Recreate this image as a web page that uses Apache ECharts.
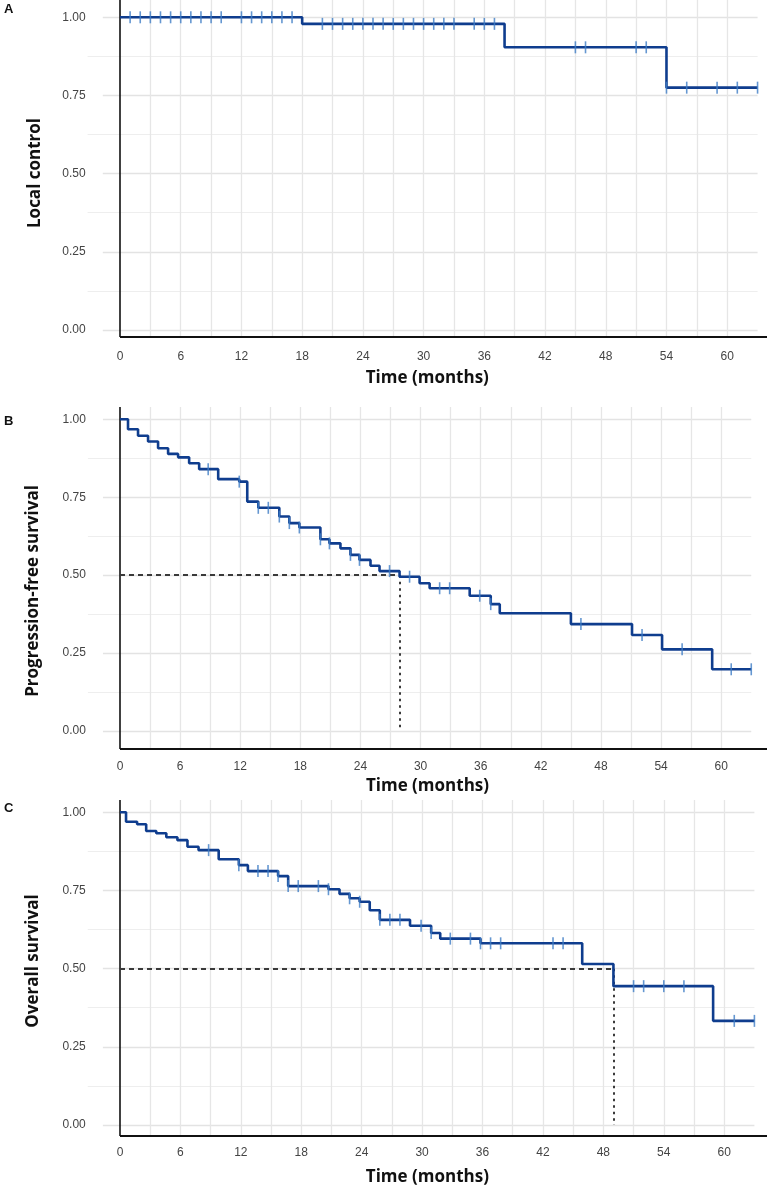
<!DOCTYPE html>
<html>
<head>
<meta charset="utf-8">
<script src="https://cdn.jsdelivr.net/npm/echarts@6/dist/echarts.min.js"></script>
<style>
html,body{margin:0;padding:0;background:#fff;}
#c{width:769px;height:1190px;}
</style>
</head>
<body>
<div id="c"></div>
<script>
// ---------- DATA ----------
const X_TICKS = [0, 6, 12, 18, 24, 30, 36, 42, 48, 54, 60];
const Y_TICKS = [0, 0.25, 0.5, 0.75, 1];
const X_GRID = [3, 6, 9, 12, 15, 18, 21, 24, 27, 30, 33, 36, 39, 42, 45, 48, 51, 54, 57, 60];
const Y_GRID_MAJOR = [0, 0.25, 0.5, 0.75, 1];
const Y_GRID_MINOR = [0.125, 0.375, 0.625, 0.875];
const X_TITLE = 'Time (months)';

// Panel A: Local control
const LC_TIMES = [0, 18, 38, 54, 63];
const LC_SURV  = [1.0, 0.979, 0.904, 0.775, 0.775];
const LC_CENSOR = [1, 2, 3, 4, 5, 6, 7, 8, 9, 10, 12, 13, 14, 15, 16, 17,
  20, 21, 22, 23, 24, 25, 26, 27, 28, 29, 30, 31, 32, 33, 35, 36, 37,
  45, 46, 51, 52, 54, 56, 59, 61, 63];

// Panel B: Progression-free survival
const PFS_TIMES = [0, 0.8, 1.8, 2.8, 3.8, 4.8, 5.8, 6.9, 7.9, 9.8, 11.9, 12.7, 13.8, 15.9, 16.9,
  17.9, 20.0, 20.9, 22.0, 23.0, 23.9, 25.0, 25.9, 27.9, 29.9, 30.9, 34.9, 37.0, 37.9,
  45.0, 51.1, 54.1, 59.1, 63.0];
const PFS_SURV = [1.0, 0.968, 0.947, 0.929, 0.907, 0.889, 0.878, 0.859, 0.840, 0.808, 0.800, 0.736, 0.716, 0.688, 0.667,
  0.653, 0.615, 0.602, 0.586, 0.565, 0.549, 0.530, 0.513, 0.495, 0.474, 0.458, 0.434, 0.407, 0.378,
  0.343, 0.308, 0.262, 0.198, 0.198];
const PFS_CENSOR = [8.8, 11.9, 13.8, 14.8, 15.9, 16.9, 17.9, 20.0, 20.9, 23.0, 23.9, 26.9, 28.9,
  31.9, 32.9, 35.9, 37.0, 46.0, 52.1, 56.1, 61.0, 63.0];
const PFS_MEDIAN = 27.9;

// Panel C: Overall survival
const OS_TIMES = [0, 0.6, 1.7, 2.6, 3.6, 4.6, 5.7, 6.7, 7.8, 9.8, 11.8, 12.7, 15.7, 16.7, 20.7,
  21.8, 22.8, 23.8, 24.8, 25.8, 28.8, 30.9, 31.8, 35.8, 45.9, 49.0, 58.9, 63.0];
const OS_SURV = [1.0, 0.970, 0.962, 0.940, 0.933, 0.920, 0.911, 0.890, 0.879, 0.850, 0.831, 0.812, 0.796, 0.764, 0.754,
  0.739, 0.725, 0.714, 0.687, 0.656, 0.637, 0.614, 0.596, 0.581, 0.515, 0.444, 0.333, 0.333];
const OS_CENSOR = [8.8, 11.8, 13.7, 14.7, 15.7, 16.7, 17.7, 19.7, 20.7, 22.8, 23.8, 25.8, 26.8, 27.8,
  29.9, 30.9, 32.8, 34.8, 35.8, 36.8, 37.8, 43.0, 44.0, 51.0, 52.0, 54.0, 56.0, 61.0, 63.0];
const OS_MEDIAN = 49.0;
const MEDIAN_LEVEL = 0.5;

// ---------- LAYOUT / STYLE ----------
const X_MIN = -3.2, X_MAJ_START = -1.7, X_GRID_END = 63, RIGHT_PX = 767, ZERO_PX = 120;
const LINE_COLOR = '#0f3d8e';
const CENS_COLOR = '#3f7dc6';
const LABEL_FONT = 'Liberation Sans';
const TITLE_FONT = 'Open Sans';

const PANELS = [
  {times: LC_TIMES, surv: LC_SURV, cens: LC_CENSOR, median: null, ytitle: 'Local control', letter: 'A',
   L: {top: 0, axis: 337, one: 17.3, zero: 330, k: 10.12, lblMargin: 14, nameGap: 33, ytx: 35, yty: 173, letY: 3}},
  {times: PFS_TIMES, surv: PFS_SURV, cens: PFS_CENSOR, median: PFS_MEDIAN, ytitle: 'Progression-free survival', letter: 'B',
   L: {top: 407, axis: 749, one: 419.3, zero: 731, k: 10.02, lblMargin: 12, nameGap: 29, ytx: 33, yty: 591, letY: 415}},
  {times: OS_TIMES, surv: OS_SURV, cens: OS_CENSOR, median: OS_MEDIAN, ytitle: 'Overall survival', letter: 'C',
   L: {top: 800, axis: 1136, one: 812.3, zero: 1125, k: 10.07, lblMargin: 11, nameGap: 33, ytx: 33, yty: 961, letY: 802}}
];

function levelAt(times, surv, t) {
  let v = surv[0];
  for (let i = 0; i < times.length; i++) { if (times[i] <= t + 1e-9) v = surv[i]; }
  return v;
}
function seg(x1, y1, x2, y2, style) {
  return [{coord: [x1, y1], lineStyle: style}, {coord: [x2, y2]}];
}

const grids = [], xAxes = [], yAxes = [], series = [], graphics = [];

PANELS.forEach((p, i) => {
  const L = p.L;
  const span = L.zero - L.one;
  const yMin = -(L.axis - L.zero) / span;
  const yMax = 1 + (L.one - L.top) / span;
  const left = ZERO_PX + X_MIN * L.k;
  const xMax = (RIGHT_PX - ZERO_PX) / L.k;
  grids.push({left: left, top: L.top, width: RIGHT_PX - left, height: L.axis - L.top, outerBoundsMode: 'none', containLabel: false});
  xAxes.push({
    type: 'value', gridIndex: i, min: X_MIN, max: xMax,
    axisLine: {show: false}, axisTick: {show: false}, splitLine: {show: false},
    axisLabel: {customValues: X_TICKS, margin: L.lblMargin, fontSize: 12, color: '#444', fontFamily: LABEL_FONT,
      formatter: v => String(v)},
    name: X_TITLE, nameLocation: 'middle', nameGap: L.nameGap,
    nameTextStyle: {fontFamily: TITLE_FONT, fontWeight: 'bold', fontSize: 17, color: '#111'}
  });
  yAxes.push({
    type: 'value', gridIndex: i, min: yMin, max: yMax,
    axisLine: {show: false}, axisTick: {show: false}, splitLine: {show: false},
    axisLabel: {customValues: Y_TICKS, margin: 2, fontSize: 12, color: '#444', fontFamily: LABEL_FONT,
      formatter: v => v.toFixed(2)}
  });

  const gridMaj = {color: '#e3e3e3', width: 1.3, type: 'solid'};
  const gridMin = {color: '#eeeeee', width: 1.2, type: 'solid'};
  const gridV = {color: '#e6e6e6', width: 1.3, type: 'solid'};
  const axisSty = {color: '#111', width: 2, type: 'solid'};
  const lines = [];
  Y_GRID_MINOR.forEach(y => lines.push(seg(X_MIN, y, X_GRID_END, y, gridMin)));
  Y_GRID_MAJOR.forEach(y => lines.push(seg(X_MAJ_START, y, X_GRID_END, y, gridMaj)));
  X_GRID.forEach(x => lines.push(seg(x, yMin, x, yMax, gridV)));
  lines.push(seg(0, yMin, 0, yMax, {color: '#111', width: 1.6, type: 'solid'}));
  lines.push(seg(0, yMin, xMax, yMin, axisSty));
  series.push({
    type: 'line', xAxisIndex: i, yAxisIndex: i, data: [[X_MIN, yMin]], showSymbol: false, silent: true, z: 1,
    lineStyle: {width: 0}, animation: false,
    markLine: {silent: true, z: 1, symbol: ['none', 'none'], label: {show: false}, animation: false,
      emphasis: {disabled: true}, data: lines}
  });

  if (p.median !== null) {
    series.push({
      type: 'line', xAxisIndex: i, yAxisIndex: i, data: [[X_MIN, yMin]], showSymbol: false, silent: true, z: 2,
      lineStyle: {width: 0}, animation: false,
      markLine: {silent: true, z: 2, symbol: ['none', 'none'], label: {show: false}, animation: false,
        emphasis: {disabled: true},
        data: [
          seg(0, MEDIAN_LEVEL, p.median, MEDIAN_LEVEL, {color: '#3a3a3a', width: 2, type: [5, 4]}),
          seg(p.median, MEDIAN_LEVEL, p.median, 0, {color: '#3a3a3a', width: 2, type: [2.5, 4]})
        ]}
    });
  }

  series.push({
    type: 'line', xAxisIndex: i, yAxisIndex: i, step: 'end', showSymbol: false, silent: true, z: 6,
    animation: false,
    data: p.times.map((t, j) => [t, p.surv[j]]),
    lineStyle: {color: LINE_COLOR, width: 2.6}
  });
  series.push({
    type: 'scatter', xAxisIndex: i, yAxisIndex: i, silent: true, z: 7, animation: false,
    symbol: 'rect', symbolSize: [1.6, 12],
    itemStyle: {color: CENS_COLOR},
    data: p.cens.map(t => [t, levelAt(p.times, p.surv, t)])
  });

  graphics.push({type: 'text', left: 4, top: L.letY,
    style: {text: p.letter, font: 'bold 13px "Liberation Sans"', fill: '#111'}});
  graphics.push({type: 'text', x: L.ytx, y: L.yty, rotation: Math.PI / 2,
    style: {text: p.ytitle, font: 'bold 17px "Open Sans"', fill: '#111', textAlign: 'center', textVerticalAlign: 'middle'}});
});

const chart = echarts.init(document.getElementById('c'), null, {renderer: 'canvas'});
chart.setOption({
  animation: false,
  backgroundColor: '#ffffff',
  grid: grids, xAxis: xAxes, yAxis: yAxes, series: series, graphic: graphics
});
</script>
</body>
</html>
